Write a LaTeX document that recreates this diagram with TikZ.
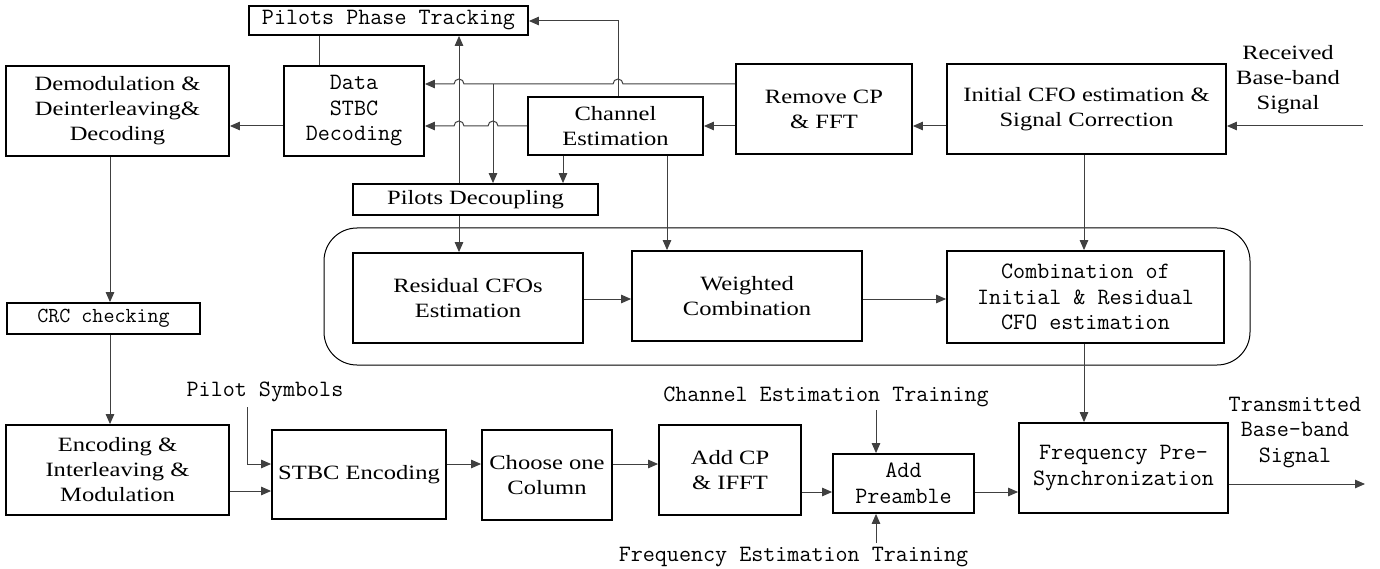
\documentclass[tikz,border=0pt]{standalone}
\usepackage{fontspec}
\setmainfont{Liberation Serif}[FakeStretch=1.21]
\newfontfamily\monofam{Latin Modern Mono}[FakeStretch=1.0]
\usetikzlibrary{arrows.meta}
\newcommand{\fsSerif}{\fontsize{20.3}{25}\selectfont}
\newcommand{\fsMono}{\monofam\fontsize{23.4}{25.5}\selectfont}
\newcommand{\fsMonoS}{\monofam\fontsize{21.4}{24}\selectfont}
\begin{document}
\begin{tikzpicture}[x=1pt,y=-1pt,
  box/.style={draw=black, line width=1.8pt, inner sep=0pt, align=center, font=\fsSerif},
  mbox/.style={box, font=\fsMono},
  lbl/.style={inner sep=0pt, align=center},
  conn/.style={line width=1pt, draw=black!75},
  arr/.style={conn, -{Triangle[length=10pt,width=8.5pt]}},
]
\useasboundingbox (0,0) rectangle (1380,569);

% helper coordinates
\coordinate (h21) at (0,21);
\coordinate (h84) at (0,84);
\coordinate (h126) at (0,126);
\coordinate (h299) at (0,299);
\coordinate (h464) at (0,464);
\coordinate (h491) at (0,491);
\coordinate (h492) at (0,492);
\coordinate (v110) at (110,0);
\coordinate (v319) at (319,0);
\coordinate (v459) at (459,0);
\coordinate (v563) at (563,0);
\coordinate (v618) at (618,0);
\coordinate (v667) at (667,0);
\coordinate (v1084) at (1084,0);

% group box
\node[draw=black, line width=1pt, rounded corners=33pt, minimum width=926pt, minimum height=137pt] (grp) at (787,296.5) {};

% boxes
\node[mbox, minimum width=279pt, minimum height=29pt] (ppt) at (388.5,20.5) {Pilots Phase Tracking};
\node[box, minimum width=223pt, minimum height=90pt] (demod) at (117.5,111) {Demodulation \&\\Deinterleaving\&\\Decoding};
\node[mbox, minimum width=140pt, minimum height=90pt] (data) at (354,111) {Data\\STBC\\Decoding};
\node[box, minimum width=175pt, minimum height=58pt] (chest) at (615.5,126) {Channel\\Estimation};
\node[box, minimum width=176pt, minimum height=90pt] (rmcp) at (824,109) {Remove CP\\\& FFT};
\node[box, minimum width=279pt, minimum height=90pt] (icfo) at (1086.5,109) {Initial CFO estimation \&\\Signal Correction};
\node[box, minimum width=245pt, minimum height=31pt] (pdec) at (475.5,199.5) {Pilots Decoupling};
\node[box, minimum width=230pt, minimum height=90pt] (resid) at (468,298) {Residual CFOs\\Estimation};
\node[box, minimum width=230pt, minimum height=90pt] (wcomb) at (747,296) {Weighted\\Combination};
\node[mbox, minimum width=277pt, minimum height=92pt] (comb) at (1085.5,297) {Combination of\\Initial \& Residual\\CFO estimation};
\node[box, font=\fsMonoS, minimum width=193pt, minimum height=31pt] (crc) at (103.5,318.5) {CRC checking};
\node[box, minimum width=223pt, minimum height=90pt] (enc) at (117.5,470) {Encoding \&\\Interleaving \&\\Modulation};
\node[box, minimum width=174pt, minimum height=89pt] (stbc) at (359,474.5) {STBC Encoding};
\node[box, minimum width=130pt, minimum height=90pt] (choose) at (547,475) {Choose one\\Column};
\node[box, minimum width=142pt, minimum height=90pt] (addcp) at (730,470) {Add CP\\\& IFFT};
\node[mbox, minimum width=141pt, minimum height=59pt] (pre) at (903.5,483.5) {Add\\Preamble};
\node[mbox, minimum width=209pt, minimum height=90pt] (fps) at (1123.5,468) {Frequency Pre-\\Synchronization};

% free labels
\node[lbl, font=\fsSerif, anchor=north] (rxlbl) at (1288,45) {Received\\Base-band\\Signal};
\node[lbl, font=\fsMono, anchor=north] (txlbl) at (1295,397) {Transmitted\\Base-band\\Signal};
\node[lbl, font=\fsMono, anchor=base] (pilotlbl) at (265,396) {Pilot Symbols};
\node[lbl, font=\fsMono, anchor=base] (cetlbl) at (826,401) {Channel Estimation Training};
\node[lbl, font=\fsMono, anchor=base] (fetlbl) at (793.5,561) {Frequency Estimation Training};

% free ends
\coordinate (rxstart) at (1363,126);
\coordinate (txend) at (1365,484);
\coordinate (pilotstart) at (247,407);
\coordinate (cetstart) at (876,410);
\coordinate (fetstart) at (876,543);
\coordinate (j493) at (493,84);

% receiver chain
\draw[arr] (rxstart) -- (icfo.east |- rxstart);
\draw[arr] (icfo.west |- h126) -- (rmcp.east |- h126);
\draw[arr] (rmcp.west |- h126) -- (chest.east |- h126);
\draw[arr] (rmcp.west |- h84) -- (623,84) arc[start angle=0,end angle=180,radius=5pt]
   -- (464,84) arc[start angle=0,end angle=180,radius=5pt] -- (data.east |- h84);
\draw[arr] (chest.west |- h126) -- (498,126) arc[start angle=0,end angle=180,radius=5pt]
   -- (464,126) arc[start angle=0,end angle=180,radius=5pt] -- (data.east |- h126);
\draw[arr] (j493) -- (pdec.north -| j493);
\draw[arr] (chest.north -| v618) |- (ppt.east |- h21);
\draw[arr] (chest.south -| v563) -- (pdec.north -| v563);
\draw[arr] (pdec.north -| v459) -- (ppt.south -| v459);
\draw[arr] (pdec.south -| v459) -- (resid.north -| v459);
\draw[arr] (chest.south -| v667) -- (wcomb.north -| v667);
\draw[arr] (icfo.south -| v1084) -- (comb.north -| v1084);
\draw[arr] (resid.east |- h299) -- (wcomb.west |- h299);
\draw[arr] (wcomb.east |- h299) -- (comb.west |- h299);
\draw[conn] (ppt.south -| v319) -- (data.north -| v319);
\draw[arr] (data.west |- h126) -- (demod.east |- h126);
\draw[arr] (demod.south -| v110) -- (crc.north -| v110);
\draw[arr] (crc.south -| v110) -- (enc.north -| v110);

% transmitter chain
\draw[arr] (comb.south -| v1084) -- (fps.north -| v1084);
\draw[arr] (enc.east |- h491) -- (stbc.west |- h491);
\draw[arr] (pilotstart) |- (stbc.west |- h464);
\draw[arr] (stbc.east |- h464) -- (choose.west |- h464);
\draw[arr] (choose.east |- h464) -- (addcp.west |- h464);
\draw[arr] (addcp.east |- h492) -- (pre.west |- h492);
\draw[arr] (pre.east |- h492) -- (fps.west |- h492);
\draw[arr] (fps.east |- txend) -- (txend);
\draw[arr] (cetstart) -- (pre.north -| cetstart);
\draw[arr] (fetstart) -- (pre.south -| fetstart);
\end{tikzpicture}
\end{document}
